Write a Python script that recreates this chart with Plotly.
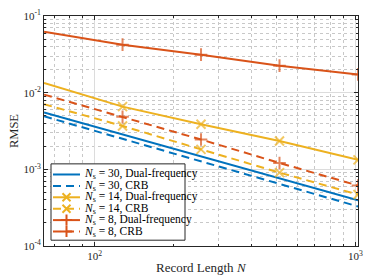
import plotly.graph_objects as go

N = [64, 128, 256, 512, 1024]

ns30_dual = [0.00553, 0.00286, 0.00148, 0.000762, 0.000394]
ns30_crb = [0.00492, 0.00250, 0.00127, 0.000646, 0.000328]
ns14_dual = [0.01336, 0.00657, 0.00387, 0.00234, 0.00133]
ns14_crb = [0.00706, 0.00368, 0.00182, 0.000906, 0.000469]
ns8_dual = [0.0622, 0.0423, 0.0313, 0.0225, 0.0173]
ns8_crb = [0.00944, 0.00484, 0.00245, 0.00121, 0.000615]

labels = [
    "<i>N</i><sub>s</sub> = 30, Dual-frequency",
    "<i>N</i><sub>s</sub> = 30, CRB",
    "<i>N</i><sub>s</sub> = 14, Dual-frequency",
    "<i>N</i><sub>s</sub> = 14, CRB",
    "<i>N</i><sub>s</sub> = 8, Dual-frequency",
    "<i>N</i><sub>s</sub> = 8, CRB",
]

y_ticks = [1e-4, 1e-3, 1e-2, 1e-1]
y_ticktext = ["10<sup>-4</sup>", "10<sup>-3</sup>", "10<sup>-2</sup>", "10<sup>-1</sup>"]
x_ticks = [100, 1000]
x_ticktext = ["10<sup>2</sup>", "10<sup>3</sup>"]
x_minor = [70, 80, 90, 200, 300, 400, 500, 600, 700, 800, 900]
y_minor = [m * d for d in (1e-4, 1e-3, 1e-2) for m in range(2, 10)]

BLUE = "#0072BD"
ORANGE = "#D95319"
YELLOW = "#EDB120"
FONT = "Liberation Serif"
DASH = "8px,5px"

series = [
    (ns30_dual, labels[0], BLUE, "solid", None),
    (ns30_crb, labels[1], BLUE, DASH, None),
    (ns14_dual, labels[2], YELLOW, "solid", "x-thin-open"),
    (ns14_crb, labels[3], YELLOW, DASH, "x-thin-open"),
    (ns8_dual, labels[4], ORANGE, "solid", "cross-thin-open"),
    (ns8_crb, labels[5], ORANGE, DASH, "cross-thin-open"),
]

fig = go.Figure()
for vals, name, col, dash, sym in series:
    if sym is None:
        fig.add_trace(go.Scatter(x=N, y=vals, name=name, mode="lines",
                                 line=dict(color=col, width=2, dash=dash)))
    else:
        sizes = [0, 9, 9, 9, 9]
        fig.add_trace(go.Scatter(x=N, y=vals, name=name, mode="lines+markers",
                                 line=dict(color=col, width=2, dash=dash),
                                 marker=dict(symbol=sym, size=sizes, color=col,
                                             line=dict(color=col, width=2))))

# ---- custom legend (drawn on a hidden overlay axis in pixel-like units) ----
LX0, LX1, LY0, LY1 = 51, 185, 161, 240
row_y = [172, 183.8, 195.6, 207.4, 219.2, 231]
fig.add_trace(go.Scatter(x=[LX0, LX1, LX1, LX0, LX0], y=[LY0, LY0, LY1, LY1, LY0],
                         mode="lines", fill="toself", fillcolor="white",
                         line=dict(color="#262626", width=1),
                         xaxis="x2", yaxis="y2", hoverinfo="skip", showlegend=False))
for (vals, name, col, dash, sym), ry in zip(series, row_y):
    fig.add_trace(go.Scatter(x=[53, 80], y=[ry, ry], mode="lines",
                             line=dict(color=col, width=2, dash=dash),
                             xaxis="x2", yaxis="y2", hoverinfo="skip", showlegend=False))
    if sym is not None:
        fig.add_trace(go.Scatter(x=[66.5], y=[ry], mode="markers",
                                 marker=dict(symbol=sym, size=8, color=col,
                                             line=dict(color=col, width=2)),
                                 xaxis="x2", yaxis="y2", hoverinfo="skip", showlegend=False))
    fig.add_annotation(x=81.5, y=ry, xref="x2", yref="y2", text=name, showarrow=False,
                       xanchor="left", yanchor="middle",
                       font=dict(family=FONT, size=11.5, color="#000000"))

# x-axis title as annotation (precise placement)
fig.add_annotation(x=0.5, y=-0.092, xref="paper", yref="paper",
                   text="Record Length <i>N</i>", showarrow=False,
                   xanchor="center", yanchor="middle",
                   font=dict(family=FONT, size=13, color="#262626"))

axis_common = dict(
    type="log", showline=True, linecolor="#262626", linewidth=1, mirror="ticks",
    ticks="inside", ticklen=4, tickcolor="#262626",
    showgrid=True, gridcolor="#dcdcdc", gridwidth=1,
    zeroline=False,
    tickfont=dict(family=FONT, size=11, color="#262626"),
)

fig.update_xaxes(**axis_common)
fig.update_layout(
    xaxis=dict(range=[1.806, 3.0103], tickvals=x_ticks, ticktext=x_ticktext,
               minor=dict(tickvals=x_minor, ticks="inside", ticklen=2, tickcolor="#262626",
                          showgrid=True, gridcolor="#c8c8c8", griddash="dot", gridwidth=1)),
    yaxis=dict(**axis_common, range=[-4, -1], tickvals=y_ticks, ticktext=y_ticktext,
               minor=dict(tickvals=y_minor, ticks="inside", ticklen=2, tickcolor="#262626",
                          showgrid=True, gridcolor="#c8c8c8", griddash="dot", gridwidth=1),
               title=dict(text="RMSE", font=dict(family=FONT, size=12.5, color="#262626"),
                          standoff=2)),
    xaxis2=dict(overlaying="x", range=[44, 358], visible=False, fixedrange=True),
    yaxis2=dict(overlaying="y", range=[246, 8], visible=False, fixedrange=True),
    width=374, height=280,
    margin=dict(l=44, r=16, t=8, b=34),
    plot_bgcolor="white", paper_bgcolor="white",
    font=dict(family=FONT, color="#262626"),
    showlegend=False,
)

fig.write_html("out.html", config=dict(displayModeBar=False),
               post_script="document.body.style.margin='0';")
